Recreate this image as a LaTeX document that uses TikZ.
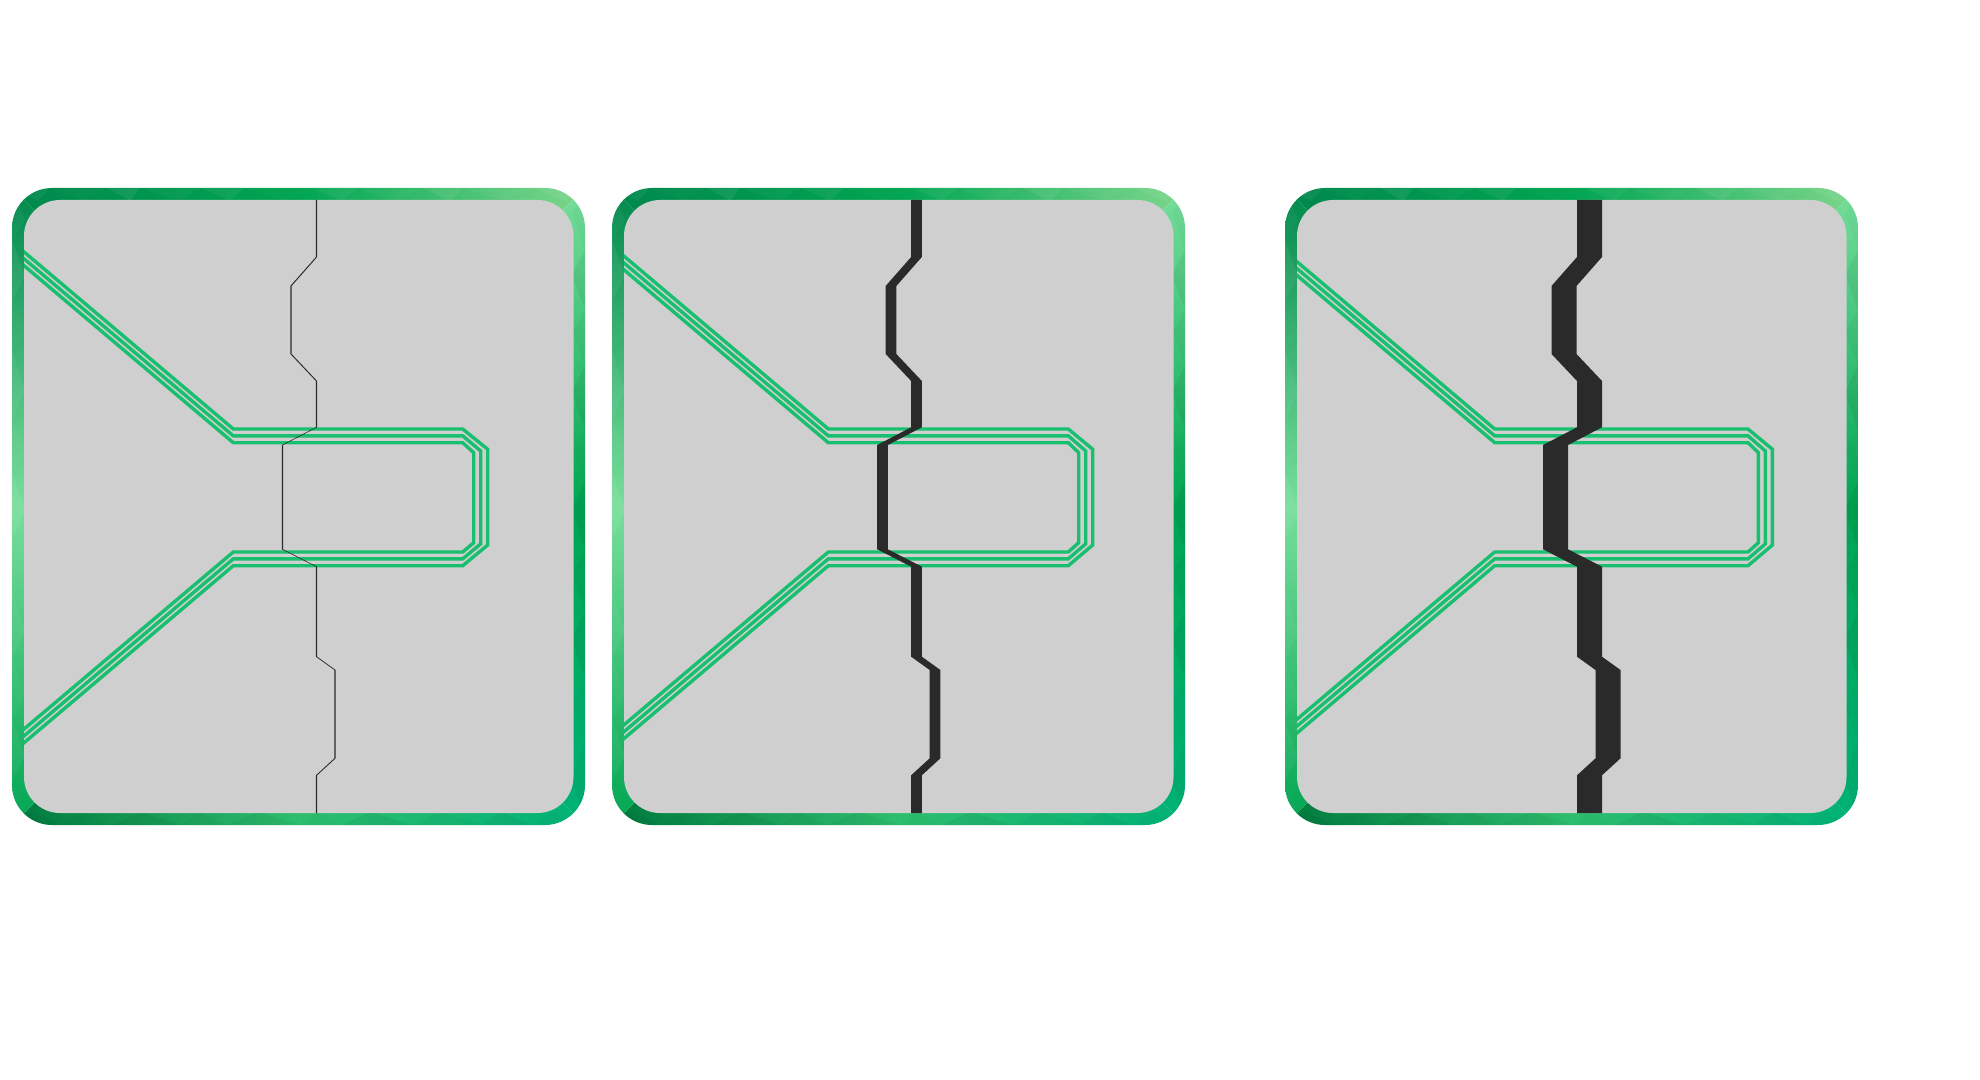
\documentclass[tikz,border=0pt]{standalone}
\usepackage{tikz}
\usetikzlibrary{calc}
\definecolor{board}{RGB}{207,207,207}
\definecolor{trace}{RGB}{24,191,111}
\definecolor{crack}{RGB}{42,42,42}
\definecolor{rimdark}{RGB}{0,136,76}
\definecolor{rimmid}{RGB}{0,165,82}
\definecolor{rimlight}{RGB}{125,215,140}
\definecolor{rimpale}{RGB}{120,222,155}
\definecolor{rimteal}{RGB}{0,178,118}
\definecolor{rimdeep}{RGB}{0,122,62}
\definecolor{rimsoft}{RGB}{45,190,110}
\tikzset{trace line/.style={draw=trace, line width=1.7pt}}
% green rim of one board, #1 = left x
\def\rim#1{%
	\begin{scope}
		\clip[rounded corners=20pt] (#1,188) rectangle (#1+573,825);
		\shade[left color=rimdark, right color=rimlight, middle color=rimmid] (#1,188) -- (#1+573,188) -- (#1+513,248) -- (#1+60,248) -- cycle;
		\shade[top color=rimpale, bottom color=rimteal, middle color=rimmid] (#1+573,188) -- (#1+513,248) -- (#1+513,765) -- (#1+573,825) -- cycle;
		\shade[left color=rimdeep, right color=rimteal, middle color=rimsoft] (#1,825) -- (#1+573,825) -- (#1+513,765) -- (#1+60,765) -- cycle;
		\shade[top color=rimdark, bottom color=rimmid, middle color=rimpale] (#1,188) -- (#1+60,248) -- (#1+60,765) -- (#1,825) -- cycle;
		% facets
		\foreach \a/\b/\o in {0/38/0.05, 38/95/0.02, 95/128/0.07, 128/190/0.03, 190/232/0.06, 232/300/0.02, 300/345/0.05, 345/410/0.03, 410/452/0.07, 452/520/0.04, 520/573/0.06}
			\fill[white, opacity=\o] (#1+\a,188) -- (#1+\b,188) -- (#1+\a/2+\b/2+7,201) -- cycle;
		\foreach \a/\b/\o in {0/52/0.04, 52/100/0.02, 100/170/0.05, 170/215/0.03, 215/290/0.04, 290/330/0.02, 330/400/0.05, 400/470/0.03, 470/520/0.04, 520/573/0.02}
			\fill[black, opacity=\o] (#1+\a,825) -- (#1+\b,825) -- (#1+\a/2+\b/2-6,812) -- cycle;
		\foreach \a/\b/\o in {188/240/0.03, 240/300/0.06, 300/350/0.02, 350/420/0.05, 420/470/0.03, 470/540/0.06, 540/590/0.02, 590/660/0.05, 660/720/0.03, 720/780/0.05, 780/825/0.02}
			\fill[white, opacity=\o] (#1,\a) -- (#1,\b) -- (#1+13,\a/2+\b/2+6) -- cycle;
		\foreach \a/\b/\o in {188/250/0.02, 250/310/0.05, 310/365/0.03, 365/430/0.06, 430/480/0.02, 480/550/0.05, 550/610/0.03, 610/680/0.05, 680/740/0.02, 740/825/0.04}
			\fill[black, opacity=\o] (#1+573,\a) -- (#1+573,\b) -- (#1+560,\a/2+\b/2-5) -- cycle;
	\end{scope}
	\fill[board, rounded corners=18pt] (#1+12,200) rectangle (#1+561.5,813);}
% three parallel traces, #1 = left x, #2 = left bend, #3 = right bend, #4 = outer right
\def\traces#1#2#3#4{%
	\foreach \i in {0,1,2}
		\draw[trace line] (#1-10,{429+6.85*\i-0.846*(#2+10)}) -- (#1+#2,{429+6.85*\i}) -- (#1+#3,{429+6.85*\i}) -- ({#1+#4-7*\i},{449.3+1.7*\i}) -- ({#1+#4-7*\i},{545-1.15*\i}) -- (#1+#3,{565.7-6.85*\i}) -- (#1+#2,{565.7-6.85*\i}) -- (#1-10,{565.7-6.85*\i+0.846*(#2+10)});}
% crack, #1 = left x, #2 = half width
\def\crackpath#1#2{%
	\fill[crack] (#1+304.5-#2,190) -- (#1+304.5-#2,257) -- (#1+279-#2,286) -- (#1+279-#2,354) -- (#1+304.5-#2,381) -- (#1+304.5-#2,427.3) -- (#1+270.5-#2,445) -- (#1+270.5-#2,549.3) -- (#1+304.5-#2,566.7) -- (#1+304.5-#2,656.7) -- (#1+323-#2,670) -- (#1+323-#2,758.3) -- (#1+304.5-#2,775.3) -- (#1+304.5-#2,823)
	-- (#1+304.5+#2,823) -- (#1+304.5+#2,775.3) -- (#1+323+#2,758.3) -- (#1+323+#2,670) -- (#1+304.5+#2,656.7) -- (#1+304.5+#2,566.7) -- (#1+270.5+#2,549.3) -- (#1+270.5+#2,445) -- (#1+304.5+#2,427.3) -- (#1+304.5+#2,381) -- (#1+279+#2,354) -- (#1+279+#2,286) -- (#1+304.5+#2,257) -- (#1+304.5+#2,190) -- cycle;}

\begin{document}
\begin{tikzpicture}[x=0.5pt,y=-0.5pt]
		%%%%% START %%%%%
		
		\fill[white] (0,0) rectangle (1980,1080);
		\useasboundingbox (0,0) rectangle (1980,1080);
		
		\rim{12}
		\begin{scope}
			\clip[rounded corners=18pt] (24,200) rectangle (573.5,813);
			\traces{12}{221.3}{450.7}{475.7}
			\crackpath{12}{0.65}
		\end{scope}
		
		\rim{612}
		\begin{scope}
			\clip[rounded corners=18pt] (624,200) rectangle (1173.5,813);
			\traces{612}{216.3}{456.3}{480.7}
			\crackpath{612}{5.35}
		\end{scope}
		
		\rim{1285}
		\begin{scope}
			\clip[rounded corners=18pt] (1297,200) rectangle (1846.5,813);
			\traces{1285}{209.7}{463}{487.4}
			\crackpath{1285}{12.5}
		\end{scope}
		
		%%%%% END %%%%%
\end{tikzpicture}
\end{document}
